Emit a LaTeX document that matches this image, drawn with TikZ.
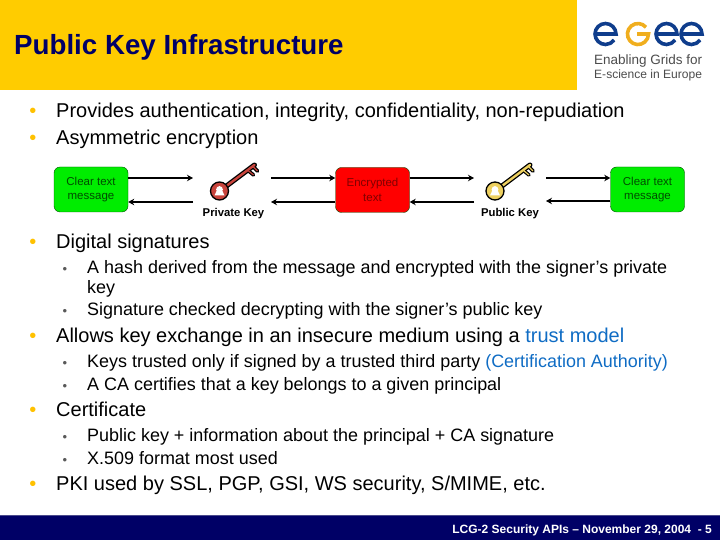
\documentclass[tikz,border=0pt]{standalone}
\usepackage{fontspec}
\setmainfont{Liberation Sans}
\usepackage{tikz}
\usetikzlibrary{arrows.meta}

\definecolor{headyellow}{HTML}{FFCC00}
\definecolor{footblue}{HTML}{000066}
\definecolor{footline}{HTML}{4A4A8C}
\definecolor{egeeblue}{HTML}{0F3D8C}
\definecolor{egeegold}{HTML}{F0AE1E}
\definecolor{trustblue}{HTML}{0F6CC4}
\definecolor{redkey}{HTML}{C8443C}
\definecolor{goldkey}{HTML}{EDD060}

\tikzset{
  lone/.style = {anchor = base west, inner sep = 0, font = \fontsize{20}{20}\selectfont},
  ltwo/.style = {anchor = base west, inner sep = 0, font = \fontsize{17.95}{18}\selectfont},
  bone/.style = {anchor = base, inner sep = 0, text = headyellow!85!orange, font = \fontsize{20}{20}\selectfont},
  btwo/.style = {anchor = base, inner sep = 0, text = black!65, font = \fontsize{13}{13}\selectfont},
  msgbox/.style = {draw = black!70!green, rounded corners = 6pt, minimum width = 74pt, minimum height = 45pt,
    inner sep = 0, align = center, font = \fontsize{11.5}{14.5}\selectfont},
  flow/.style = {-{Stealth[length = 6pt, width = 6.5pt]}, line width = 1.8pt},
  flowb/.style = {flow, line width = 2.4pt},
  keylabel/.style = {inner sep = 0, font = \fontsize{11.3}{11}\selectfont\bfseries},
  pics/keyshape/.style = {code = {
    \draw[black, line width = 5pt, line cap = round] (0, 0) -- (28, 21);
    \draw[black, line width = 3.6pt, line cap = round] (21, 16) -- (27, 11) (26, 20) -- (31, 15);
    \draw[#1, line width = 2.4pt, line cap = round] (0, 0) -- (28, 21);
    \draw[#1, line width = 1.2pt] (21, 16) -- (27, 11) (26, 20) -- (31, 15);
    \draw[black, fill = #1, line width = 1.3pt] (-7, -5) circle (9);
    \fill[white] (-7, -3.5) circle (3.4) (-12, -9.5) -- (-2, -9.5) -- (-5, -3) -- (-9, -3) -- cycle;
  }},
  egeeletter/.style = {line width = 3.6pt, line cap = butt},
}

\begin{document}
\begin{tikzpicture}[x = 1pt, y = 1pt]
\useasboundingbox (0, 0) rectangle (720, 540);

% header
\fill[headyellow] (0, 450) rectangle (577, 540);
\node[anchor = base west, inner sep = 0, text = footblue, font = \fontsize{27.7}{28}\selectfont\bfseries] (title) at (14, 485) {Public Key Infrastructure};

% logo
\draw[egeeletter, egeeblue] (595, 506) -- (616, 506) arc (0 : 325 : 10.5);
\draw[egeeletter, egeegold] (646, 512.7) arc (40 : 360 : 10.5) -- (637, 506);
\draw[egeeletter, egeeblue] (656, 506) -- (677, 506) arc (0 : 325 : 10.5);
\draw[egeeletter, egeeblue] (681, 506) -- (702, 506) arc (0 : 325 : 10.5);
\node[anchor = base west, inner sep = 0, text = black!70, font = \fontsize{13.5}{14}\selectfont] (logoa) at (594, 475) {Enabling Grids for};
\node[anchor = base west, inner sep = 0, text = black!70, font = \fontsize{12.05}{14}\selectfont] (logob) at (594, 461) {E-science in Europe};

% first bullets
\node[bone] (ba) at (33, 422) {•};
\node[lone] (ta) at (56, 422) {Provides authentication, integrity, confidentiality, non-repudiation};
\node[bone] (bb) at (33, 395) {•};
\node[lone] (tb) at (56, 395) {Asymmetric encryption};

% boxes
\node[msgbox, fill = green!93!black, text = green!30!black] at (91, 350.5) (clearl) {Clear text\\message};
\node[msgbox, fill = red, text = red!50!black] at (372.5, 350) (crypt) {Encrypted\\text};
\node[msgbox, fill = green!93!black, text = green!30!black] at (647.5, 350.5) (clearr) {Clear text\\message};

\coordinate (pa) at (193, 362);
\coordinate (pb) at (193, 338);
\coordinate (pc) at (271, 362);
\coordinate (pd) at (271, 338);
\coordinate (qa) at (474, 362);
\coordinate (qb) at (474, 338);
\coordinate (qc) at (546, 362);
\coordinate (qd) at (546, 339);

\draw[flowb] (clearl.east |- pa) -- (pa);
\draw[flowb] (pb) -- (clearl.east |- pb);
\draw[flow] (pc) -- (crypt.west |- pc);
\draw[flow] (crypt.west |- pd) -- (pd);
\draw[flowb] (crypt.east |- qa) -- (qa);
\draw[flowb] (qb) -- (crypt.east |- qb);
\draw[flow] (qc) -- (clearr.west |- qc);
\draw[flow] (clearr.west |- qd) -- (qd);

% keys
\pic at (226.5, 354) {keyshape = redkey};
\pic at (502, 354) {keyshape = goldkey};
\node[keylabel] (lpriv) at (233.5, 326.5) {Private Key};
\node[keylabel] (lpub) at (510, 326.5) {Public Key};

% signatures
\node[bone] (bc) at (33, 291) {•};
\node[lone] (tc) at (56, 291) {Digital signatures};
\node[btwo] (bd) at (65, 266) {•};
\node[ltwo] (td) at (87, 266) {A hash derived from the message and encrypted with the signer’s private};
\node[ltwo] (tdd) at (87, 246) {key};
\node[btwo] (be) at (65, 224) {•};
\node[ltwo] (te) at (87, 224) {Signature checked decrypting with the signer’s public key};

% key exchange
\node[bone] (bf) at (33, 197) {•};
\node[lone] (tf) at (56, 197) {Allows key exchange in an insecure medium using a \textcolor{trustblue}{trust model}};
\node[btwo] (bg) at (65, 172) {•};
\node[ltwo] (tg) at (87, 172) {Keys trusted only if signed by a trusted third party \textcolor{trustblue}{(Certification Authority)}};
\node[btwo] (bh) at (65, 149) {•};
\node[ltwo] (th) at (87, 149) {A CA certifies that a key belongs to a given principal};

% certificate
\node[bone] (bi) at (33, 123) {•};
\node[lone] (ti) at (56, 123) {Certificate};
\node[btwo] (bj) at (65, 98) {•};
\node[ltwo] (tj) at (87, 98) {Public key + information about the principal + CA signature};
\node[btwo] (bk) at (65, 75) {•};
\node[ltwo] (tk) at (87, 75) {X.509 format most used};

\node[bone] (bl) at (33, 49) {•};
\node[lone] (tl) at (56, 49) {PKI used by SSL, PGP, GSI, WS security, S/MIME, etc.};

% footer
\fill[footblue] (0, 0) rectangle (720, 24);
\fill[footline] (0, 23.5) rectangle (720, 25);
\node[anchor = base east, inner sep = 0, text = white, font = \fontsize{12}{12}\selectfont\bfseries] (foot) at (712, 6) {LCG-2 Security APIs – November 29, 2004 \ - 5};
\end{tikzpicture}
\end{document}
